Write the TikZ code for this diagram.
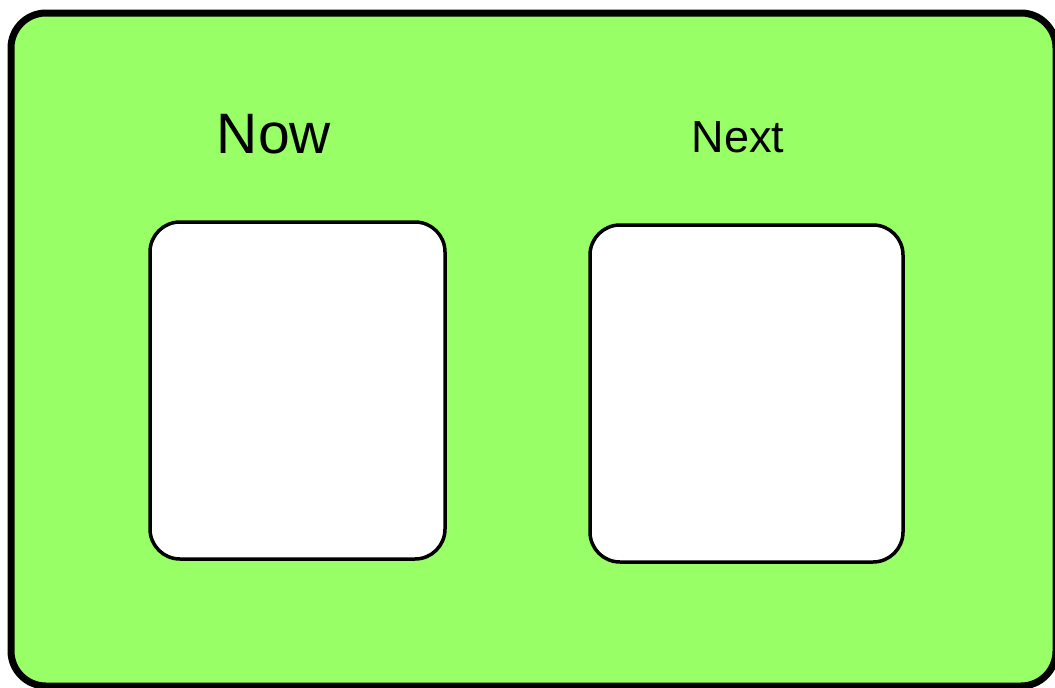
\documentclass[tikz,border=0pt]{standalone}
\usepackage{fontspec}
\setmainfont{Liberation Sans}
\usepackage{xcolor}
\usepackage{tikz}
\usetikzlibrary{positioning}

\definecolor{boardgreen}{RGB}{153,255,102}

\begin{document}
\begin{tikzpicture}[
        x=1pt, y=-1pt,
        board/.style={draw=black, fill=boardgreen, line width=7pt, rounded corners=35pt},
        slot/.style={rectangle, draw=black, fill=white, line width=3.5pt, rounded corners=30pt, minimum height=337pt},
        title/.style={anchor=base, inner sep=0pt}
    ]

    % page frame
    \clip (0,0) rectangle (1055,688);
    \fill[white] (0,0) rectangle (1055,688);
    \draw[board] (11,13) rectangle (1056,686);

    % Now
    \node[slot, minimum width=295pt] (nowbox) at (297.5,390.5) {};
    \node[title, font=\fontsize{57}{60}\selectfont] (nowlabel) at (274,153) {Now};

    % Next
    \node[slot, minimum width=313pt] (nextbox) at (746.5,393.5) {};
    \node[title, font=\fontsize{45}{48}\selectfont] (nextlabel) at (738,152) {Next};

\end{tikzpicture}
\end{document}
